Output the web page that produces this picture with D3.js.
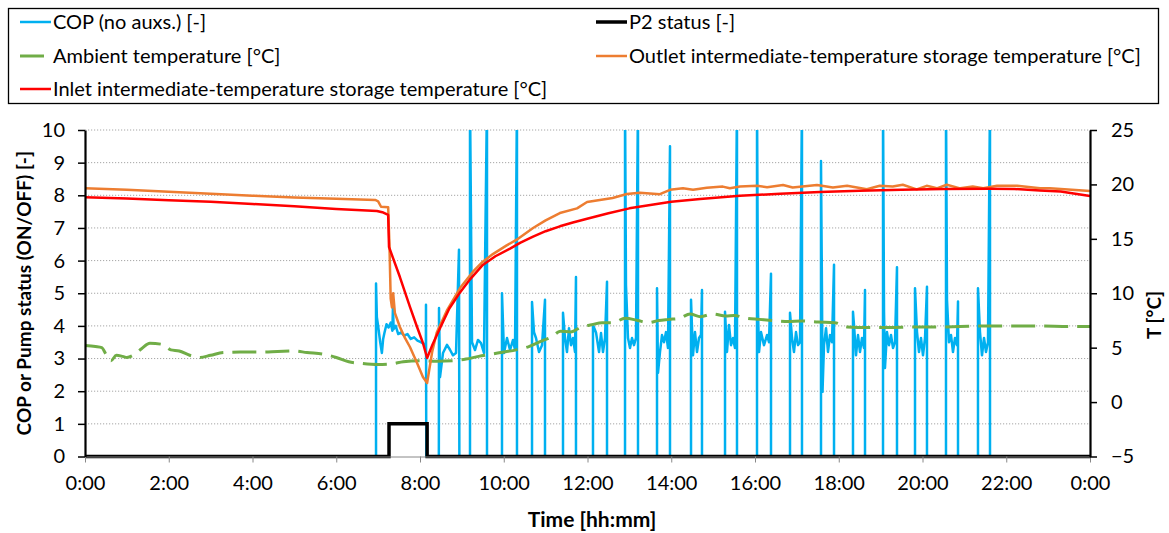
<!DOCTYPE html>
<html>
<head>
<meta charset="utf-8">
<script src="https://cdn.jsdelivr.net/npm/d3@7"></script>
<style>
  html, body { margin: 0; padding: 0; background: #fff; }
  svg { display: block; font-family: Lato, "Open Sans", sans-serif; }
</style>
</head>
<body>
<svg id="chart" width="1169" height="533"></svg>
<script>
// ---- series names ----
const seriesNames = [
  "COP (no auxs.) [-]",
  "P2 status [-]",
  "Ambient temperature [°C]",
  "Outlet intermediate-temperature storage temperature [°C]",
  "Inlet intermediate-temperature storage temperature [°C]"
];

// ---- axis ticks ----
const timeTicks = [0, 2, 4, 6, 8, 10, 12, 14, 16, 18, 20, 22, 24];   // hours
const copTicks  = [0, 1, 2, 3, 4, 5, 6, 7, 8, 9, 10];
const tempTicks = [-5, 0, 5, 10, 15, 20, 25];

// ---- COP (no auxs.) [-] : [hour, value] ----
const copData = [
  [0, 0], [6.95, 0], [6.95, 5.3], [6.97, 4.27], [7.0, 4.0], [7.05, 3.5], [7.09, 3.17], [7.12, 3.6],
  [7.15, 3.78], [7.2, 4.05], [7.25, 3.95], [7.3, 4.1], [7.34, 3.85], [7.355, 4.65], [7.37, 3.9],
  [7.42, 4.0], [7.48, 3.75], [7.55, 3.8], [7.62, 3.7], [7.7, 3.75], [7.78, 3.6], [7.86, 3.65],
  [7.94, 3.55], [8.02, 3.5], [8.09, 3.45], [8.14, 3.4], [8.143, 4.65], [8.15, 0],
  [8.45, 0], [8.454, 4.55], [8.478, 2.43], [8.549, 3.17], [8.645, 3.42], [8.716, 3.27], [8.788, 3.1],
  [8.86, 3.17], [8.931, 6.33], [8.94, 0],
  [9.194, 0], [9.194, 11], [9.242, 3.5], [9.313, 3.26], [9.385, 3.57], [9.457, 3.47], [9.528, 3.17],
  [9.6, 11], [9.6, 0],
  [9.958, 0], [9.958, 5.0], [10.006, 3.17], [10.078, 3.63], [10.149, 3.26], [10.221, 3.57],
  [10.269, 3.26], [10.316, 11], [10.316, 0],
  [10.675, 0], [10.675, 4.73], [10.722, 3.81], [10.77, 3.63], [10.842, 3.2], [10.914, 3.41],
  [10.985, 4.8], [10.985, 0],
  [11.415, 0], [11.415, 4.4], [11.463, 3.63], [11.51, 3.2], [11.558, 3.93], [11.606, 3.41],
  [11.654, 3.63], [11.702, 3.2], [11.725, 5.5], [11.725, 0],
  [12.131, 0], [12.131, 4.03], [12.203, 3.8], [12.275, 3.2], [12.323, 3.78], [12.37, 3.2],
  [12.418, 3.63], [12.466, 5.35], [12.466, 0],
  [12.896, 0], [12.896, 11], [12.919, 5.25], [12.967, 3.63], [13.015, 3.32], [13.063, 3.63],
  [13.11, 3.41], [13.158, 3.63], [13.206, 11], [13.206, 0],
  [13.66, 0], [13.66, 5.15], [13.684, 2.56], [13.731, 3.2], [13.779, 3.72], [13.827, 3.5],
  [13.875, 3.81], [13.922, 3.32], [13.97, 9.5], [13.97, 0],
  [14.472, 0], [14.472, 4.8], [14.519, 3.1], [14.567, 3.81], [14.615, 3.2], [14.663, 3.63],
  [14.71, 3.72], [14.734, 5.1], [14.734, 0],
  [15.284, 0], [15.284, 4.43], [15.331, 3.2], [15.379, 4.03], [15.427, 3.41], [15.475, 3.63],
  [15.522, 3.32], [15.57, 11], [15.57, 0],
  [16.048, 0], [16.048, 11], [16.072, 4.43], [16.096, 3.2], [16.143, 3.81], [16.215, 3.41],
  [16.287, 3.72], [16.334, 3.5], [16.382, 5.6], [16.382, 0],
  [16.836, 0], [16.836, 4.4], [16.884, 3.63], [16.931, 3.2], [16.979, 3.81], [17.027, 3.41],
  [17.075, 3.5], [17.122, 11], [17.122, 0],
  [17.576, 0], [17.576, 9.05], [17.6, 4.95], [17.612, 1.98], [17.648, 3.41], [17.696, 3.93],
  [17.743, 3.2], [17.791, 3.72], [17.839, 3.5], [17.887, 5.87], [17.887, 0],
  [18.34, 0], [18.34, 4.43], [18.364, 4.03], [18.412, 3.1], [18.46, 3.72], [18.507, 3.2],
  [18.555, 3.63], [18.603, 3.32], [18.627, 5.1], [18.627, 0],
  [19.057, 0], [19.057, 11], [19.081, 4.43], [19.104, 2.71], [19.152, 3.81], [19.2, 3.41],
  [19.248, 3.72], [19.296, 3.32], [19.343, 3.5], [19.391, 5.8], [19.391, 0],
  [19.821, 0], [19.821, 5.15], [19.869, 3.81], [19.916, 3.2], [19.964, 3.63], [20.012, 3.1],
  [20.06, 3.63], [20.107, 5.2], [20.107, 0],
  [20.561, 0], [20.561, 11], [20.585, 4.8], [20.633, 3.5], [20.681, 3.72], [20.728, 3.2],
  [20.776, 3.63], [20.824, 3.41], [20.848, 4.75], [20.848, 0],
  [21.325, 0], [21.325, 5.15], [21.373, 3.81], [21.421, 3.1], [21.469, 3.63], [21.516, 3.2],
  [21.564, 3.5], [21.612, 11], [21.612, 0],
  [24, 0]
];

// ---- P2 status [-] : [hour, value] ----
const p2Data = [[0, 0], [7.26, 0], [7.26, 1], [8.17, 1], [8.17, 0], [24, 0]];

// ---- Ambient temperature [°C] : [hour, value] ----
const ambientData = [
  [0, 5.2], [0.25, 5.1], [0.4, 5.0], [0.5, 4.4], [0.62, 3.8], [0.75, 4.3], [0.9, 4.2], [1.0, 4.1],
  [1.15, 4.3], [1.35, 4.9], [1.55, 5.4], [1.85, 5.3], [2.05, 4.8], [2.25, 4.7], [2.5, 4.3],
  [2.75, 4.1], [3.0, 4.3], [3.3, 4.55], [3.7, 4.6], [4.2, 4.6], [4.6, 4.65], [5.0, 4.7], [5.3, 4.55],
  [5.7, 4.4], [6.0, 4.1], [6.3, 3.7], [6.6, 3.55], [7.0, 3.45], [7.3, 3.5], [7.6, 3.7], [8.0, 3.8],
  [8.4, 3.75], [8.8, 3.8], [9.1, 3.95], [9.4, 4.2], [9.7, 4.4], [10.0, 4.6], [10.3, 4.8], [10.6, 5.1],
  [10.9, 5.6], [11.15, 6.0], [11.35, 6.5], [11.6, 6.45], [11.85, 6.9], [12.1, 7.1], [12.35, 7.3],
  [12.6, 7.3], [12.9, 7.7], [13.2, 7.5], [13.45, 7.3], [13.7, 7.5], [13.95, 7.6], [14.2, 7.7],
  [14.45, 8.1], [14.7, 7.85], [15.0, 8.1], [15.3, 7.9], [15.5, 7.95], [15.8, 7.7], [16.1, 7.6],
  [16.4, 7.5], [16.8, 7.4], [17.1, 7.45], [17.5, 7.35], [17.9, 7.3], [18.2, 6.9], [18.7, 6.85],
  [19.2, 6.85], [19.8, 6.9], [20.4, 6.9], [20.9, 6.95], [21.5, 7.0], [22.2, 7.0], [22.8, 7.0],
  [23.5, 6.95], [24.0, 6.95]
];

// ---- Outlet intermediate-temperature storage temperature [°C] ----
const outletData = [
  [0, 19.64], [1, 19.5], [2, 19.33], [3, 19.15], [4, 18.97], [5, 18.8], [6, 18.68], [6.93, 18.57],
  [7.0, 18.45], [7.07, 17.95], [7.24, 17.9], [7.27, 14.5], [7.3, 9.5], [7.33, 8.7], [7.36, 10.0],
  [7.4, 8.2], [7.52, 6.9], [7.64, 5.9], [7.76, 5.06], [7.93, 3.59], [8.07, 2.3], [8.17, 1.75],
  [8.29, 4.6], [8.4, 6.4], [8.64, 8.4], [8.96, 10.5], [9.27, 12.0], [9.5, 12.9], [9.74, 13.6],
  [10.07, 14.4], [10.3, 14.9], [10.7, 16.0], [11.0, 16.7], [11.34, 17.37], [11.75, 17.8],
  [11.99, 18.38], [12.6, 18.75], [12.94, 19.12], [13.25, 19.24], [13.73, 19.1], [13.97, 19.5],
  [14.28, 19.64], [14.52, 19.5], [14.85, 19.7], [15.23, 19.8], [15.4, 19.64], [15.64, 19.8],
  [16.05, 19.87], [16.29, 19.75], [16.67, 19.95], [16.9, 19.72], [17.48, 19.95], [17.86, 19.72],
  [18.2, 19.87], [18.67, 19.55], [18.98, 19.87], [19.29, 19.8], [19.53, 19.97], [19.86, 19.55],
  [20.1, 19.87], [20.34, 19.64], [20.58, 19.97], [20.9, 19.64], [21.2, 19.8], [21.45, 19.64],
  [21.78, 19.87], [22.26, 19.87], [22.81, 19.64], [23.04, 19.64], [24, 19.39]
];

// ---- Inlet intermediate-temperature storage temperature [°C] ----
const inletData = [
  [0, 18.82], [1, 18.7], [2, 18.55], [3, 18.4], [4, 18.2], [5, 18.0], [6, 17.75], [6.97, 17.56],
  [7.1, 17.45], [7.24, 17.19], [7.26, 14.25], [7.52, 11.49], [7.76, 8.74], [7.93, 6.9], [8.07, 5.43],
  [8.17, 4.05], [8.3, 5.3], [8.48, 6.8], [8.7, 8.6], [8.96, 10.1], [9.2, 11.3], [9.5, 12.6],
  [9.8, 13.4], [10.15, 14.1], [10.4, 14.65], [10.7, 15.2], [11.0, 15.7], [11.34, 16.15],
  [11.65, 16.5], [11.99, 16.85], [12.5, 17.35], [13.0, 17.8], [13.5, 18.1], [14.0, 18.4],
  [14.69, 18.65], [15.64, 18.95], [16.6, 19.15], [17.55, 19.3], [18.5, 19.42], [19.5, 19.52],
  [20.5, 19.58], [21.6, 19.6], [22.2, 19.58], [22.8, 19.45], [23.3, 19.35], [24, 18.93]
];

// ---- layout ----
const plot = { left: 85, right: 1090, top: 130, bottom: 456.5 };
const svg = d3.select("#chart");

const x  = d3.scaleLinear().domain([0, 24]).range([plot.left, plot.right]);
const yL = d3.scaleLinear().domain([0, 10]).range([plot.bottom, plot.top]);
const yR = d3.scaleLinear().domain([-5, 25]).range([plot.bottom, plot.top]);

// dotted horizontal gridlines
svg.append("g")
  .selectAll("line")
  .data(copTicks.filter(d => d > 0))
  .join("line")
  .attr("x1", plot.left).attr("x2", plot.right)
  .attr("y1", d => yL(d)).attr("y2", d => yL(d))
  .attr("stroke", "#a6a6a6")
  .attr("stroke-width", 1)
  .attr("stroke-dasharray", "1.2,1.8");

svg.append("clipPath").attr("id", "plotClip")
  .append("rect")
  .attr("x", plot.left).attr("y", plot.top)
  .attr("width", plot.right - plot.left + 2)
  .attr("height", plot.bottom - plot.top + 4);

const lineL = d3.line().x(d => x(d[0])).y(d => yL(d[1]));
const lineR = d3.line().x(d => x(d[0])).y(d => yR(d[1]));
const lineRSmooth = d3.line().x(d => x(d[0])).y(d => yR(d[1])).curve(d3.curveMonotoneX);

const series = svg.append("g").attr("clip-path", "url(#plotClip)");

// primary axis series
series.append("path").datum(copData)
  .attr("d", lineL).attr("fill", "none")
  .attr("stroke", "#00B0F0").attr("stroke-width", 2.5)
  .attr("stroke-linejoin", "round");

series.append("path").datum(p2Data)
  .attr("d", lineL).attr("fill", "none")
  .attr("stroke", "#000").attr("stroke-width", 3.5)
  .attr("stroke-linejoin", "miter");

// secondary axis series
series.append("path").datum(ambientData)
  .attr("d", lineRSmooth).attr("fill", "none")
  .attr("stroke", "#70AD47").attr("stroke-width", 3)
  .attr("stroke-dasharray", "24,9")
  .attr("stroke-linejoin", "round");

series.append("path").datum(outletData)
  .attr("d", lineR).attr("fill", "none")
  .attr("stroke", "#ED7D31").attr("stroke-width", 2.5)
  .attr("stroke-linejoin", "round");

series.append("path").datum(inletData)
  .attr("d", lineR).attr("fill", "none")
  .attr("stroke", "#FF0000").attr("stroke-width", 2.5)
  .attr("stroke-linejoin", "round");

// ---- axes ----
const tickFont = 20;

const gx = svg.append("g")
  .attr("transform", `translate(0,${plot.bottom})`)
  .call(d3.axisBottom(x)
    .tickValues(timeTicks)
    .tickSize(6)
    .tickSizeOuter(0)
    .tickPadding(13)
    .tickFormat(h => `${h % 24}:00`));
gx.select(".domain").attr("stroke", "#888").attr("stroke-width", 1);
gx.selectAll(".tick line").attr("stroke", "#888");

const gl = svg.append("g")
  .attr("transform", `translate(${plot.left},0)`)
  .call(d3.axisLeft(yL).tickValues(copTicks).tickSize(7).tickSizeOuter(0).tickPadding(13));
gl.select(".domain").attr("stroke", "#000").attr("stroke-width", 2.2);
gl.selectAll(".tick line").attr("stroke", "#000").attr("stroke-width", 1.5);

const gr = svg.append("g")
  .attr("transform", `translate(${plot.right},0)`)
  .call(d3.axisRight(yR).tickValues(tempTicks).tickSize(7).tickSizeOuter(0).tickPadding(14));
gr.select(".domain").attr("stroke", "#000").attr("stroke-width", 2.2);
gr.selectAll(".tick line").attr("stroke", "#000").attr("stroke-width", 1.5);

svg.selectAll(".tick text")
  .attr("font-size", tickFont)
  .attr("font-family", "Lato, sans-serif")
  .attr("fill", "#000");

// axis titles
svg.append("text")
  .attr("transform", `translate(31,${(plot.top + plot.bottom) / 2}) rotate(-90)`)
  .attr("text-anchor", "middle")
  .attr("font-size", 19).attr("font-weight", "bold")
  .text("COP or Pump status (ON/OFF) [-]");

svg.append("text")
  .attr("transform", `translate(1161,315) rotate(-90)`)
  .attr("text-anchor", "middle")
  .attr("font-size", 19).attr("font-weight", "bold")
  .text("T [°C]");

svg.append("text")
  .attr("x", 592).attr("y", 527)
  .attr("text-anchor", "middle")
  .attr("font-size", 21).attr("font-weight", "bold")
  .text("Time [hh:mm]");

// ---- legend ----
const legend = svg.append("g");
legend.append("rect")
  .attr("x", 8.5).attr("y", 8.5).attr("width", 1150).attr("height", 95)
  .attr("fill", "#fff").attr("stroke", "#000").attr("stroke-width", 1.3);

const legendItems = [
  { name: seriesNames[0], color: "#00B0F0", width: 2.5, dash: null, lx: 20, ly: 22 },
  { name: seriesNames[1], color: "#000",    width: 3.5, dash: null, lx: 596, ly: 22 },
  { name: seriesNames[2], color: "#70AD47", width: 3,   dash: "24,9", lx: 20, ly: 56 },
  { name: seriesNames[3], color: "#ED7D31", width: 2.5, dash: null, lx: 596, ly: 56 },
  { name: seriesNames[4], color: "#FF0000", width: 2.5, dash: null, lx: 20, ly: 89 }
];

const li = legend.selectAll("g.item").data(legendItems).join("g").attr("class", "item");
li.append("line")
  .attr("x1", d => d.lx).attr("x2", d => d.lx + 31)
  .attr("y1", d => d.ly).attr("y2", d => d.ly)
  .attr("stroke", d => d.color).attr("stroke-width", d => d.width)
  .attr("stroke-dasharray", d => d.dash);
li.append("text")
  .attr("x", d => d.lx + 33).attr("y", d => d.ly)
  .attr("dy", "0.35em")
  .attr("font-size", 20)
  .text(d => d.name);
</script>
</body>
</html>
